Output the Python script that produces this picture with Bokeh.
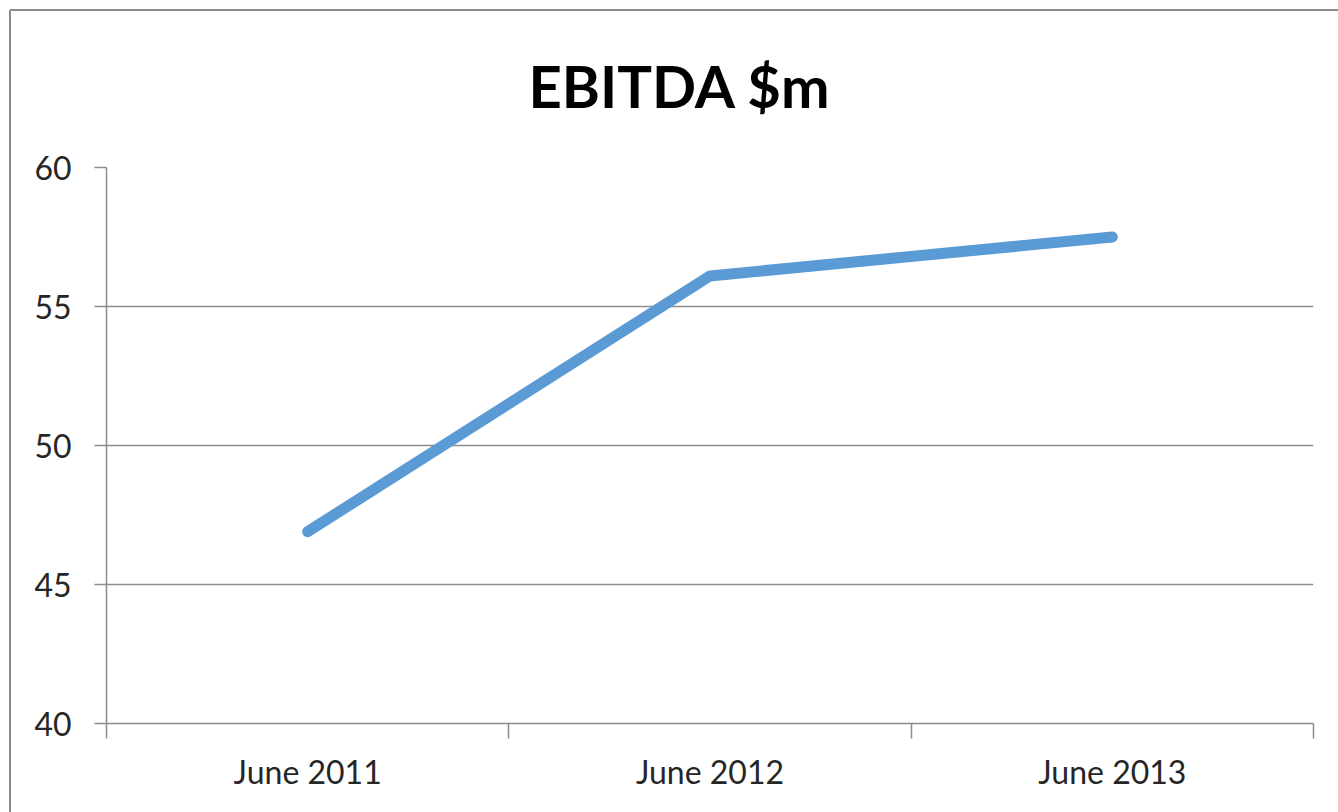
from bokeh.plotting import figure
from bokeh.models import Range1d, FixedTicker
from bokeh.embed import file_html
from bokeh.resources import INLINE

title_text = "EBITDA $m"
categories = ["June 2011", "June 2012", "June 2013"]
ebitda = [46.9, 56.1, 57.5]
y_ticks = [40, 45, 50, 55, 60]

xs = [i + 0.5 for i in range(len(categories))]

p = figure(width=1338, height=812, output_backend="svg", toolbar_location=None,
           x_range=Range1d(0, len(categories)), y_range=Range1d(40, 60),
           min_border_left=106, min_border_top=167, min_border_right=25, min_border_bottom=89,
           title=title_text)
# outer chart border (top and left edges), drawn behind a transparent border area
p.styles = {"background": "linear-gradient(#8c8c8c, #8c8c8c) 10px 9px / 100% 2px no-repeat, "
                          "linear-gradient(#8c8c8c, #8c8c8c) 9px 10px / 2px 100% no-repeat, white"}
p.outline_line_color = None
p.background_fill_color = "white"
p.border_fill_color = None

p.title.align = "left"
p.title.text_font = "Lato"
p.title.text_font_style = "bold"
p.title.text_font_size = "58px"
p.title.text_color = "black"
p.title.offset = 422
p.title.standoff = 96

p.line(xs, ebitda, line_color="#5B9BD5", line_width=11, line_cap="round", line_join="round")

grid_color = "#8c8c8c"
p.xgrid.grid_line_color = None
p.ygrid.grid_line_color = grid_color
p.ygrid.grid_line_width = 1.5
p.ygrid.ticker = FixedTicker(ticks=y_ticks)

ya = p.yaxis[0]
ya.ticker = FixedTicker(ticks=y_ticks)
ya.axis_line_color = grid_color
ya.axis_line_width = 1.5
ya.major_tick_line_color = grid_color
ya.major_tick_line_width = 1.5
ya.major_tick_out = 12
ya.major_tick_in = 0
ya.minor_tick_line_color = None
ya.major_label_standoff = 23
ya.major_label_text_font = "Lato"
ya.major_label_text_font_size = "32px"
ya.major_label_text_color = "#262626"

xa = p.xaxis[0]
xa.ticker = FixedTicker(ticks=xs, minor_ticks=list(range(len(categories) + 1)))
xa.major_label_overrides = {x: c for x, c in zip(xs, categories)}
xa.axis_line_color = grid_color
xa.axis_line_width = 1.5
xa.major_tick_line_color = None
xa.major_tick_out = 15
xa.major_tick_in = 0
xa.minor_tick_line_color = grid_color
xa.minor_tick_line_width = 1.5
xa.minor_tick_out = 15
xa.minor_tick_in = 0
xa.major_label_standoff = 13
xa.major_label_text_font = "Lato"
xa.major_label_text_font_size = "32px"
xa.major_label_text_color = "#262626"

open("out.html", "w").write(file_html(p, INLINE))
